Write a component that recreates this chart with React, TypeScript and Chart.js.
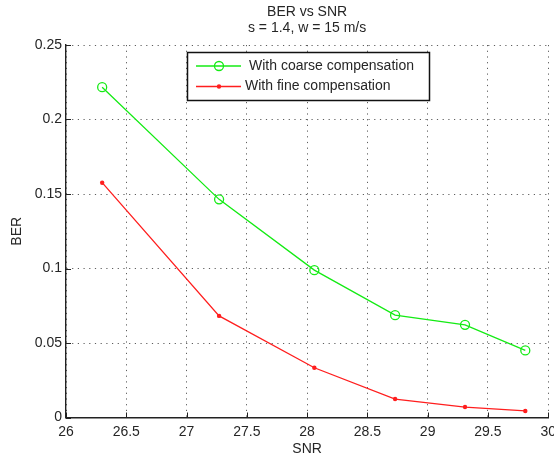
import React, { useEffect, useRef } from "react";
import { Chart, registerables } from "chart.js";

Chart.register(...registerables);

const TITLE_LINES = ["BER vs SNR", "s = 1.4, w = 15 m/s"];
const X_LABEL = "SNR";
const Y_LABEL = "BER";
const SNR = [26.3, 27.27, 28.06, 28.73, 29.31, 29.81];
const BER_COARSE = [0.2217, 0.1464, 0.0989, 0.0687, 0.0622, 0.045];
const BER_FINE = [0.1576, 0.0682, 0.0334, 0.0124, 0.007, 0.0044];
const SERIES_LABELS = ["With coarse compensation", "With fine compensation"];
const X_TICKS = [26, 26.5, 27, 27.5, 28, 28.5, 29, 29.5, 30];
const Y_TICKS = [0, 0.05, 0.1, 0.15, 0.2, 0.25];

const FONT = "'Liberation Sans', Arial, Helvetica, sans-serif";
const TEXT_COLOR = "#262626";
const GREEN = "rgb(20,235,20)";
const RED = "rgb(255,30,30)";

const decorPlugin = {
  id: "decor",
  afterDraw(chart: any) {
    const ctx = chart.ctx as CanvasRenderingContext2D;
    const area = chart.chartArea;
    const xs = chart.scales.x;
    const ys = chart.scales.y;
    ctx.save();
    // inward tick marks
    ctx.strokeStyle = "#222";
    ctx.lineWidth = 1;
    ctx.beginPath();
    X_TICKS.forEach((v) => {
      const px = Math.round(xs.getPixelForValue(v)) + 0.5;
      ctx.moveTo(px, area.bottom);
      ctx.lineTo(px, area.bottom - 5);
    });
    Y_TICKS.forEach((v) => {
      const py = Math.round(ys.getPixelForValue(v)) + 0.5;
      ctx.moveTo(area.left, py);
      ctx.lineTo(area.left + 5, py);
    });
    ctx.stroke();

    // title
    const cx = (area.left + area.right) / 2;
    ctx.fillStyle = TEXT_COLOR;
    ctx.font = `14px ${FONT}`;
    ctx.textAlign = "center";
    ctx.textBaseline = "middle";
    ctx.fillText(TITLE_LINES[0], cx, 12.5);
    ctx.fillText(TITLE_LINES[1], cx, 28);

    // legend box
    const bx = 187.5, by = 52.5, bw = 242, bh = 48;
    ctx.fillStyle = "#fff";
    ctx.fillRect(bx, by, bw, bh);
    ctx.strokeStyle = "#111";
    ctx.lineWidth = 1.5;
    ctx.strokeRect(bx, by, bw, bh);
    const rows = [66, 86.5];
    const textStarts = [249, 245];
    chart.data.datasets.forEach((ds: any, i: number) => {
      const y = rows[i];
      ctx.strokeStyle = ds.borderColor;
      ctx.lineWidth = ds.borderWidth;
      ctx.beginPath();
      ctx.moveTo(196, y);
      ctx.lineTo(241, y);
      ctx.stroke();
      ctx.beginPath();
      ctx.arc(219, y, ds.pointRadius, 0, Math.PI * 2);
      if (i === 0) {
        ctx.lineWidth = ds.pointBorderWidth;
        ctx.strokeStyle = ds.pointBorderColor;
        ctx.stroke();
      } else {
        ctx.fillStyle = ds.pointBackgroundColor;
        ctx.fill();
      }
      ctx.fillStyle = TEXT_COLOR;
      ctx.font = `14px ${FONT}`;
      ctx.textAlign = "left";
      ctx.textBaseline = "middle";
      ctx.fillText(ds.label, textStarts[i], y);
    });
    ctx.restore();
  },
};

export default function App() {
  const canvasRef = useRef<HTMLCanvasElement | null>(null);

  useEffect(() => {
    const canvas = canvasRef.current;
    if (!canvas) return;
    const chart = new Chart(canvas, {
      type: "line",
      data: {
        datasets: [
          {
            label: SERIES_LABELS[0],
            data: SNR.map((x, i) => ({ x, y: BER_COARSE[i] })),
            borderColor: GREEN,
            borderWidth: 1.3,
            pointStyle: "circle",
            pointRadius: 4.5,
            pointBorderWidth: 1.3,
            pointBorderColor: GREEN,
            pointBackgroundColor: "rgba(0,0,0,0)",
            tension: 0,
          },
          {
            label: SERIES_LABELS[1],
            data: SNR.map((x, i) => ({ x, y: BER_FINE[i] })),
            borderColor: RED,
            borderWidth: 1.3,
            pointStyle: "circle",
            pointRadius: 2.2,
            pointBorderWidth: 0,
            pointBorderColor: RED,
            pointBackgroundColor: RED,
            tension: 0,
          },
        ],
      },
      options: {
        animation: false,
        responsive: false,
        maintainAspectRatio: false,
        layout: { padding: { top: 45, right: 4, left: 0, bottom: 0 } },
        plugins: {
          legend: { display: false },
          title: { display: false },
          tooltip: { enabled: false },
        },
        scales: {
          x: {
            type: "linear",
            min: 26,
            max: 30,
            afterBuildTicks: (s: any) => {
              s.ticks = X_TICKS.map((v) => ({ value: v }));
            },
            afterFit: (s: any) => {
              s.height = 41.5;
              s.paddingLeft = 0;
              s.paddingRight = 0;
            },
            ticks: {
              autoSkip: false,
              maxRotation: 0,
              padding: 6,
              color: TEXT_COLOR,
              font: { family: FONT, size: 14 },
              callback: (v: any) => String(v),
            },
            grid: {
              color: "rgba(40,40,40,0.75)",
              lineWidth: 1,
              drawTicks: false,
            },
            border: { display: true, color: "#222", width: 1.4, dash: [1.2, 4.5] },
            title: {
              display: true,
              text: X_LABEL,
              color: TEXT_COLOR,
              font: { family: FONT, size: 14 },
              padding: { top: 0, bottom: 1 },
            },
          },
          y: {
            type: "linear",
            min: 0,
            max: 0.25,
            afterBuildTicks: (s: any) => {
              s.ticks = Y_TICKS.map((v) => ({ value: v }));
            },
            afterFit: (s: any) => {
              s.width = 66;
              s.paddingTop = 0;
              s.paddingBottom = 0;
            },
            ticks: {
              autoSkip: false,
              padding: 4,
              color: TEXT_COLOR,
              font: { family: FONT, size: 14 },
              callback: (v: any) => String(v),
            },
            grid: {
              color: "rgba(40,40,40,0.75)",
              lineWidth: 1,
              drawTicks: false,
            },
            border: { display: true, color: "#222", width: 1.4, dash: [1.2, 4.5] },
            title: {
              display: true,
              text: Y_LABEL,
              color: TEXT_COLOR,
              font: { family: FONT, size: 14 },
              padding: { top: 9, bottom: 0 },
            },
          },
        },
      },
      plugins: [decorPlugin],
    } as any);
    return () => chart.destroy();
  }, []);

  return (
    <div style={{ position: "absolute", left: 0, top: 0, width: 554, height: 459, background: "#fff" }}>
      <canvas ref={canvasRef} width={554} height={459} style={{ display: "block" }} />
    </div>
  );
}
